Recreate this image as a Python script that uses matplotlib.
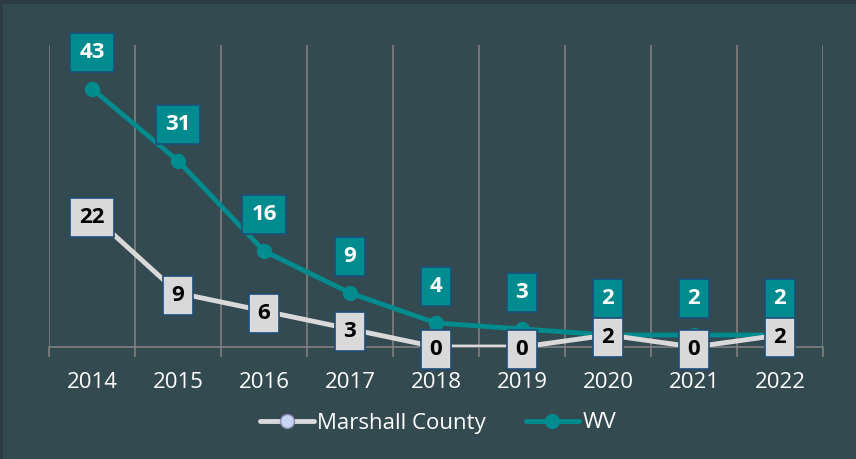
import matplotlib.pyplot as plt
import numpy as np

years = ["2014", "2015", "2016", "2017", "2018", "2019", "2020", "2021", "2022"]
marshall = [22, 9, 6, 3, 0, 0, 2, 0, 2]
wv = [43, 31, 16, 9, 4, 3, 2, 2, 2]

bg = "#344a51"
teal = "#008b8e"
light = "#d9d9d9"
grid_col = "#7f7f7f"
edge_col = "#1f4e79"

plt.rcParams['font.family'] = ['Open Sans', 'DejaVu Sans']

fig = plt.figure(figsize=(8.56, 4.59), dpi=100, facecolor=bg)
# darker strips along the top and left edges
fig.patches.append(plt.Rectangle((0, 1 - 4 / 459), 1, 4 / 459, transform=fig.transFigure,
                                 fc="#2d3b42", ec='none', zorder=0))
fig.patches.append(plt.Rectangle((0, 0), 3 / 856, 1, transform=fig.transFigure,
                                 fc="#2d3b42", ec='none', zorder=0))
ax = fig.add_axes([49 / 856, 1 - 347 / 459, 774 / 856, 302 / 459])
ax.set_facecolor(bg)

x = np.arange(len(years))
ax.plot(x, wv, color=teal, lw=3.5, marker='o', ms=10, mfc=teal, mec=teal,
        label="WV", zorder=3, solid_capstyle='round')
ax.plot(x, marshall, color=light, lw=3.5, marker='o', ms=10, mfc="#c9d5f5",
        mec="#8c8cb0", label="Marshall County", zorder=4, solid_capstyle='round')

for xi, v in zip(x, wv):
    ax.annotate(str(v), (xi, v), xytext=(0, 26), textcoords='offset points',
                ha='center', va='center', fontsize=16, fontweight='bold', color='white',
                bbox=dict(boxstyle='square,pad=0.4', fc=teal, ec=edge_col, lw=1.2),
                zorder=6, annotation_clip=False)
for xi, v in zip(x, marshall):
    ax.annotate(str(v), (xi, v), xytext=(0, -2), textcoords='offset points',
                ha='center', va='center', fontsize=16, fontweight='bold', color='black',
                bbox=dict(boxstyle='square,pad=0.4', fc=light, ec=edge_col, lw=1.2),
                zorder=7, annotation_clip=False)

ax.set_xlim(-0.5, len(years) - 0.5)
ax.set_ylim(0, 50.3)
ax.set_xticks(x)
ax.set_xticklabels(years, fontsize=16, color='white')
ax.set_xticks(np.arange(-0.5, len(years)), minor=True)
ax.tick_params(axis='x', which='major', length=0, pad=18)
ax.tick_params(axis='x', which='minor', length=7, color=grid_col, width=1.2)
ax.set_yticks([])
ax.grid(axis='x', which='minor', color=grid_col, lw=1.2)
for s in ['top', 'right', 'left']:
    ax.spines[s].set_visible(False)
ax.spines['bottom'].set_color(grid_col)
ax.spines['bottom'].set_linewidth(1.2)

h, l = ax.get_legend_handles_labels()
leg = fig.legend(h[::-1], l[::-1], loc='center', bbox_to_anchor=(0.512, 1 - 423 / 459),
                 ncol=2, frameon=False, fontsize=16, handlelength=2.4,
                 columnspacing=1.8, handletextpad=0.15)
for t in leg.get_texts():
    t.set_color('white')

fig.savefig("out.png", dpi=100, facecolor=bg)
